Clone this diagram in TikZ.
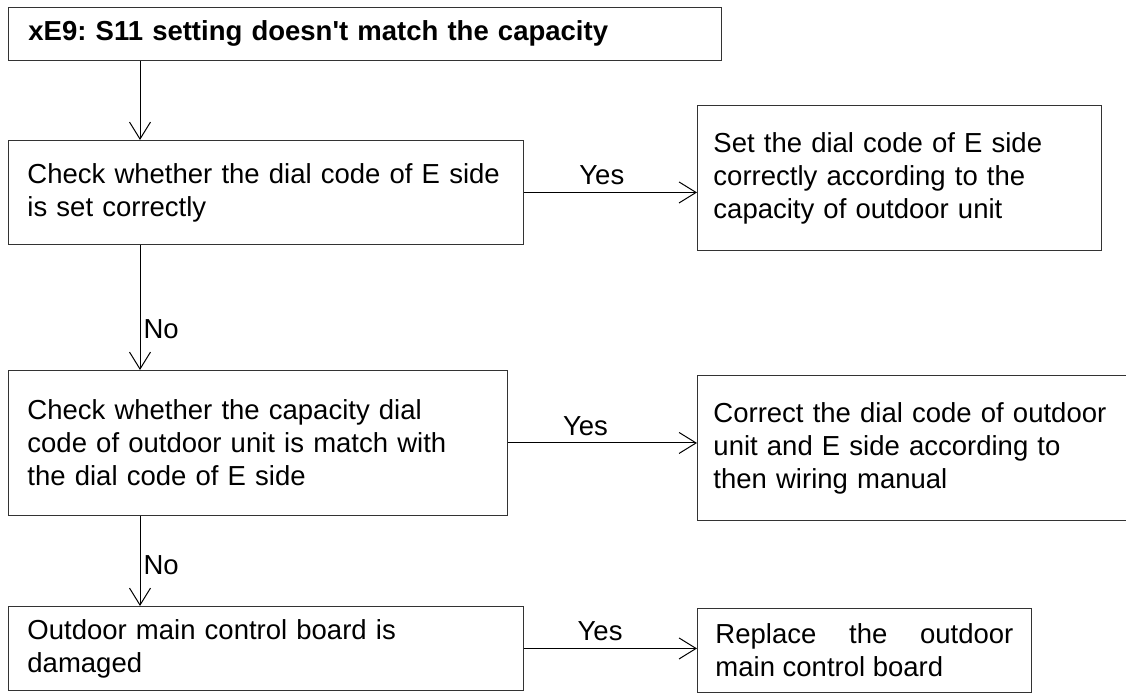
\documentclass[tikz,border=0pt]{standalone}
\usepackage{fontspec}
\setmainfont{Liberation Sans}
\usetikzlibrary{positioning, arrows.meta}
\frenchspacing
\newcommand{\straightquote}{\XeTeXglyph\XeTeXcharglyph"27\relax}

\tikzset{
  stepbox/.style={draw=black!80, line width=0.9pt, anchor=north west, inner xsep=16pt, inner ysep=0pt,
    align=left, font=\fontsize{27.5}{33}\selectfont},
  flow/.style={line width=1pt, -{Straight Barb[length=17pt, width=21pt, line width=1pt]}},
  lbl/.style={font=\fontsize{27.5}{33}\selectfont, inner sep=3pt}
}

\begin{document}
\begin{tikzpicture}[x=1pt, y=-1pt]
\useasboundingbox (0,0) rectangle (1126,693);
\coordinate (spine) at (140,0);

\node[stepbox, text width=673pt, minimum height=53pt, inner xsep=20pt,
  font=\fontsize{27.5}{33}\selectfont\bfseries] (fault) at (8,7) {xE9: S11 setting doesn\straightquote t match the capacity};

\node[stepbox, text width=483pt, minimum height=104pt] (chkE) at (8,140)
  {\hspace{3pt}Check whether the dial code of E side\\\hspace{3pt}is set correctly};
\node[stepbox, text width=372pt, minimum height=145pt] (setE) at (697,105)
  {Set the dial code of E side\\correctly according to the\\capacity of outdoor unit};

\node[stepbox, text width=467pt, minimum height=145pt] (chkCap) at (8,370)
  {\hspace{3pt}Check whether the capacity dial\\\hspace{3pt}code of outdoor unit is match with\\\hspace{3pt}the dial code of E side};
\node[stepbox, text width=404pt, minimum height=145pt] (fixCode) at (697,375)
  {Correct the dial code of outdoor\\unit and E side according to\\then wiring manual};

\node[stepbox, text width=483pt, minimum height=84pt] (board) at (8,606)
  {\hspace{3pt}Outdoor main control board is\\\hspace{3pt}damaged};
\node[stepbox, text width=298pt, minimum height=84pt, inner xsep=18pt, align=justify] (replace) at (697,608)
  {Replace the outdoor main control board};

\draw[flow] (fault.south -| spine) -- (chkE.north -| spine);
\draw[flow] (chkE.east) -- node[lbl, above=4pt, pos=0.45] {Yes} (chkE.east -| setE.west);
\draw[flow] (chkE.south -| spine) -- node[lbl, right, pos=0.67] {No} (chkCap.north -| spine);
\draw[flow] (chkCap.east) -- node[lbl, above=4pt, pos=0.41] {Yes} (chkCap.east -| fixCode.west);
\draw[flow] (chkCap.south -| spine) -- node[lbl, right, pos=0.55] {No} (board.north -| spine);
\draw[flow] (board.east) -- node[lbl, above=4pt, pos=0.44] {Yes} (board.east -| replace.west);
\end{tikzpicture}
\end{document}
